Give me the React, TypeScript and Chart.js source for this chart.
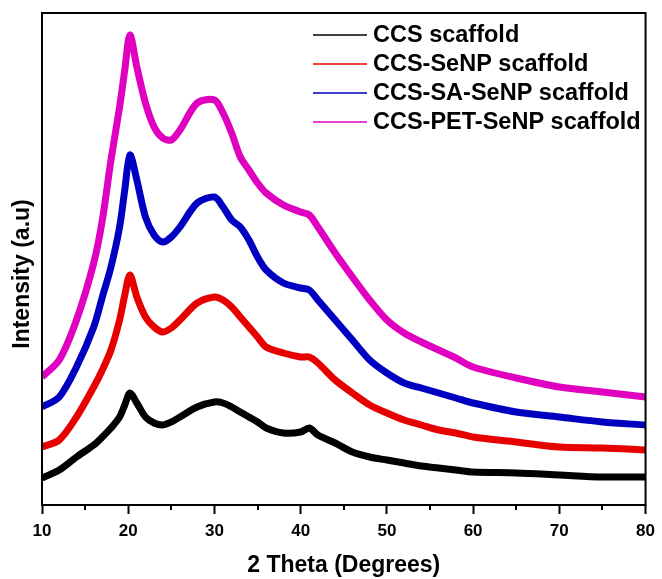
import React, { useEffect, useRef } from "react";
import { Chart, registerables } from "chart.js";

Chart.register(...registerables);

// 2θ positions (degrees) where the traces were read
const twoTheta = [10, 12, 14, 16, 17, 18, 19, 19.6, 20.2, 21, 22, 23, 24, 25, 26, 28, 30, 31, 32, 33, 34, 35, 36, 38, 40, 41, 42, 44, 46, 48, 50, 52, 54, 56, 58, 60, 65, 70, 75, 80];

// intensities (a.u., stacked/offset as in the figure)
const ccs = [27, 35, 48, 60, 68, 77, 88, 100, 112, 102, 88, 82, 80, 83, 88, 98, 103, 102, 98, 93, 88, 83, 77, 72, 73, 77, 70, 62, 53, 48, 45, 42, 39, 37, 35, 33, 32, 30, 28, 28];
const ccsSeNP = [58, 65, 88, 118, 135, 155, 185, 210, 230, 208, 188, 178, 173, 177, 185, 202, 208, 205, 198, 188, 178, 168, 158, 152, 148, 148, 142, 125, 112, 100, 92, 85, 80, 75, 72, 68, 63, 58, 57, 55];
const ccsSaSeNP = [98, 108, 138, 178, 208, 238, 278, 315, 350, 325, 288, 270, 263, 268, 278, 302, 308, 298, 285, 278, 265, 248, 235, 222, 217, 215, 205, 185, 165, 145, 132, 122, 117, 112, 107, 102, 93, 88, 83, 80];
const ccsPetSeNP = [128, 145, 185, 242, 285, 345, 398, 435, 470, 438, 402, 378, 367, 365, 375, 402, 405, 392, 372, 348, 335, 322, 312, 300, 293, 290, 278, 252, 228, 205, 185, 172, 163, 155, 147, 138, 127, 118, 113, 108];

const seriesLabels = ["CCS scaffold", "CCS-SeNP scaffold", "CCS-SA-SeNP scaffold", "CCS-PET-SeNP scaffold"];
const seriesColors = ["#000000", "#e60000", "#0000c0", "#e000c0"];
const xTicks = [10, 20, 30, 40, 50, 60, 70, 80];
const xMinorTicks = [15, 25, 35, 45, 55, 65, 75];
const xTitle = "2 Theta (Degrees)";
const yTitle = "Intensity (a.u)";

const FONT = "'Liberation Sans', Arial, sans-serif";

const decorPlugin = {
  id: "decor",
  afterDraw(chart: any) {
    const { ctx, chartArea } = chart;
    const xs = chart.scales.x;
    ctx.save();
    // frame
    ctx.strokeStyle = "#000";
    ctx.lineWidth = 2;
    ctx.strokeRect(chartArea.left, chartArea.top, chartArea.right - chartArea.left, chartArea.bottom - chartArea.top);
    // minor ticks
    xMinorTicks.forEach((v) => {
      const px = Math.round(xs.getPixelForValue(v));
      ctx.beginPath();
      ctx.moveTo(px, chartArea.bottom);
      ctx.lineTo(px, chartArea.bottom + 5);
      ctx.stroke();
    });
    // legend
    ctx.font = `bold 23.5px ${FONT}`;
    ctx.textBaseline = "middle";
    ctx.textAlign = "left";
    chart.data.datasets.forEach((ds: any, i: number) => {
      const y = 35 + i * 29;
      ctx.strokeStyle = ds.borderColor;
      ctx.lineWidth = 1.5;
      ctx.beginPath();
      ctx.moveTo(313, y);
      ctx.lineTo(367, y);
      ctx.stroke();
      ctx.fillStyle = "#000";
      ctx.fillText(ds.label, 373, y + 1);
    });
    // y title
    ctx.font = `bold 23px ${FONT}`;
    ctx.translate(23, 274);
    ctx.rotate(-Math.PI / 2);
    ctx.textAlign = "center";
    ctx.fillText(yTitle, 0, 0);
    ctx.restore();
  },
};

export default function App() {
  const ref = useRef<HTMLCanvasElement | null>(null);
  useEffect(() => {
    if (!ref.current) return;
    const seriesValues = [ccs, ccsSeNP, ccsSaSeNP, ccsPetSeNP];
    const chart = new Chart(ref.current, {
      type: "line",
      data: {
        datasets: seriesValues.map((vals, i) => ({
          label: seriesLabels[i],
          data: twoTheta.map((x, j) => ({ x, y: vals[j] })),
          borderColor: seriesColors[i],
          backgroundColor: seriesColors[i],
          borderWidth: 7,
          pointRadius: 0,
          tension: 0.3,
          fill: false,
        })),
      },
      options: {
        animation: false,
        responsive: false,
        devicePixelRatio: 1,
        layout: { padding: { top: 13, right: 10, left: 0, bottom: 0 } },
        plugins: { legend: { display: false }, tooltip: { enabled: false } },
        scales: {
          x: {
            type: "linear",
            min: 10,
            max: 80,
            afterBuildTicks: (s: any) => {
              s.ticks = xTicks.map((v) => ({ value: v }));
            },
            afterFit: (s: any) => {
              s.height = 74;
            },
            grid: { display: true, drawOnChartArea: false, drawTicks: true, tickLength: 9, tickWidth: 2, tickColor: "#000" },
            border: { display: false },
            ticks: { color: "#000", padding: 7, font: { family: FONT, size: 17, weight: "bold" } },
            title: { display: true, text: xTitle, color: "#000", padding: { top: 0, bottom: 0 }, font: { family: FONT, size: 23, weight: "bold" } },
          },
          y: {
            min: 0,
            max: 492,
            afterFit: (s: any) => {
              s.width = 42;
            },
            grid: { display: false },
            border: { display: false },
            ticks: { display: false },
            title: { display: false },
          },
        },
      },
      plugins: [decorPlugin],
    });
    return () => chart.destroy();
  }, []);
  return (
    <div style={{ position: "absolute", left: 0, top: 0, width: 662, height: 579, background: "#fff" }}>
      <canvas ref={ref} width={662} height={579} />
    </div>
  );
}
